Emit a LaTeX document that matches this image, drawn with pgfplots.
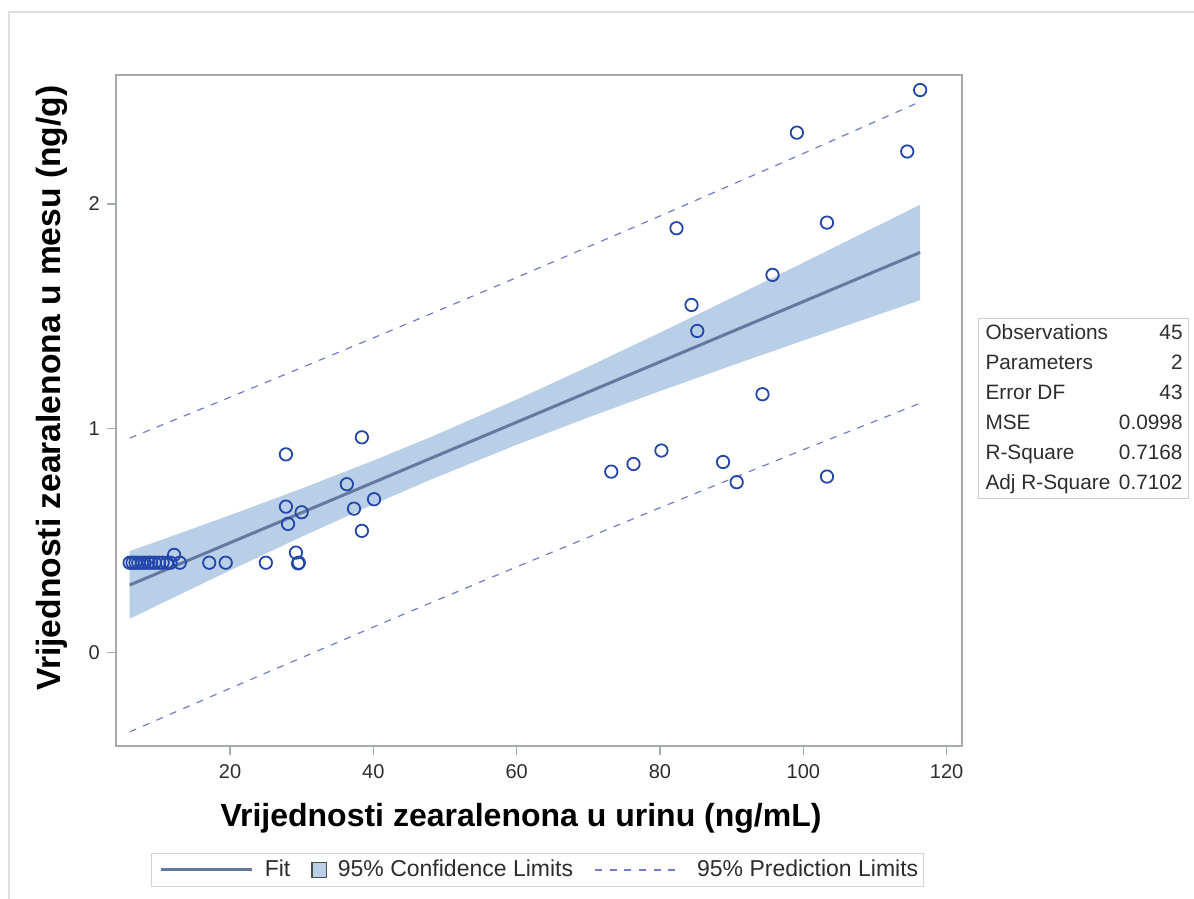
\documentclass[border=0pt]{standalone}
\usepackage{pgfplots}
\pgfplotsset{compat=1.18}
\usepackage{fontspec}
\setmainfont{Liberation Sans}
\definecolor{markc}{RGB}{35,70,170}
\definecolor{fitc}{RGB}{100,120,160}
\definecolor{bandc}{RGB}{185,207,231}
\definecolor{predc}{RGB}{110,125,205}
\definecolor{framec}{RGB}{165,170,175}
\definecolor{tickc}{RGB}{45,45,45}

\pgfplotstableread{
x y
116.3 2.508
99.1 2.318
114.5 2.234
82.3 1.892
103.3 1.917
95.7 1.684
84.4 1.550
85.2 1.434
94.3 1.152
73.2 0.807
76.3 0.841
80.2 0.901
88.8 0.850
90.7 0.760
103.3 0.785
27.8 0.884
38.4 0.960
36.3 0.751
40.1 0.684
27.8 0.651
37.3 0.642
30.0 0.626
28.1 0.574
38.4 0.543
29.2 0.446
29.6 0.401
29.5 0.398
17.1 0.401
19.4 0.401
25.0 0.401
12.2 0.436
13.0 0.401
6.0 0.401
6.4 0.401
6.8 0.401
7.2 0.401
7.7 0.401
8.1 0.401
8.6 0.401
9.0 0.401
9.5 0.401
10.1 0.401
10.6 0.401
11.2 0.401
11.7 0.401
}\obs

\begin{document}
\begin{tikzpicture}
\path[use as bounding box] (0,0) rectangle (597pt,449.5pt);
\draw[gray!25, line width=0.6pt] (4.5pt,0) -- (4.5pt,443.5pt) -- (597pt,443.5pt);
\begin{axis}[
  at={(57.85pt,76.5pt)}, anchor=south west,
  scale only axis, width=423pt, height=335.5pt,
  xmin=4.05, xmax=122.1, ymin=-0.416, ymax=2.575,
  xtick={20,40,60,80,100,120}, ytick={0,1,2},
  tick pos=left, tick align=outside, major tick length=4.5pt,
  axis line style={framec, line width=0.8pt},
  tick style={framec, line width=0.8pt},
  ticklabel style={font=\fontsize{10}{12}\selectfont, text=tickc},
  xticklabel style={yshift=-1pt},
  /pgf/number format/assume math mode=true,
  legend columns=3,
  legend style={at={(0.4983,-0.1848)}, anchor=center, draw=gray!35, line width=0.5pt,
    font=\fontsize{11.5}{13}\selectfont, inner xsep=2.5pt, inner ysep=3.5pt,
    nodes={inner sep=0pt, text=tickc},
    /tikz/every odd column/.append style={column sep=5.5pt},
    /tikz/every even column/.append style={column sep=10.5pt}},
]
\addplot[fill=bandc, draw=none, forget plot] coordinates {
(6.0,0.4525) (10,0.4978) (20,0.6128) (30,0.7316) (40,0.8562) (48,0.9611)
(60,1.1281) (70,1.2749) (80,1.4266) (90,1.5815) (100,1.7385) (110,1.8969) (116.3,1.9970)
(116.3,1.5710) (110,1.5019) (100,1.3915) (90,1.2797) (80,1.1658) (70,1.0487) (60,0.9267)
(48,0.7711) (40,0.6610) (30,0.5168) (20,0.3668) (10,0.2130) (6.0,0.1507)} -- cycle;

\addplot[predc, line width=0.6pt, dash pattern=on 3.5pt off 3.8pt, forget plot] coordinates {
(6.0,0.9562) (20,1.1386) (40,1.4030) (48,1.5101) (60,1.6723) (80,1.9464) (100,2.2252) (116.3,2.4560)};
\addplot[predc, line width=0.6pt, dash pattern=on 3.5pt off 3.8pt, forget plot] coordinates {
(6.0,-0.3530) (20,-0.1590) (40,0.1142) (48,0.2221) (60,0.3825) (80,0.6460) (100,0.9048) (116.3,1.1120)};

\addplot[fitc, line width=1.5pt, forget plot] coordinates {
(6.0,0.3016) (40,0.7586) (80,1.2962) (116.3,1.7840)};

\addplot[only marks, mark=o, mark size=3.1pt, markc, mark options={line width=0.9pt}, forget plot] table[x=x, y=y] {\obs};

\addlegendimage{legend image code/.code={\path[draw=none] (0pt,0pt) -- (48.5pt,0pt); \draw[fitc, line width=1.5pt] (2.5pt,0pt) -- (48pt,0pt);}}
\addlegendentry{Fit}
\addlegendimage{legend image code/.code={\draw[black!70, fill=bandc, line width=0.6pt] (0pt,-3.6pt) rectangle (7.2pt,3.6pt);}}
\addlegendentry{95\% Confidence Limits}
\addlegendimage{legend image code/.code={\path[draw=none] (0pt,0pt) -- (46pt,0pt); \draw[predc, line width=0.6pt, dash pattern=on 3.5pt off 3.8pt] (0.5pt,0pt) -- (41.5pt,0pt);}}
\addlegendentry{95\% Prediction Limits}
\end{axis}

\node[font=\fontsize{16}{19}\bfseries\selectfont, text=black] at (260.5pt,40.5pt) {Vrijednosti zearalenona u urinu (ng/mL)};
\node[font=\fontsize{16.8}{19}\bfseries\selectfont, text=black, rotate=90] at (26pt,255.5pt) {Vrijednosti zearalenona u mesu (ng/g)};

\node[anchor=north west, draw=gray!40, line width=0.5pt, inner sep=0pt, font=\fontsize{10.4}{15}\selectfont, text=tickc] at (489pt,290.5pt) {%
\begin{tabular}{@{\hspace{3.5pt}}l@{\hspace{4.3pt}}r@{\hspace{3pt}}}
Observations & 45\\
Parameters & 2\\
Error DF & 43\\
MSE & 0.0998\\
R-Square & 0.7168\\
Adj R-Square & 0.7102
\end{tabular}};
\end{tikzpicture}
\end{document}
